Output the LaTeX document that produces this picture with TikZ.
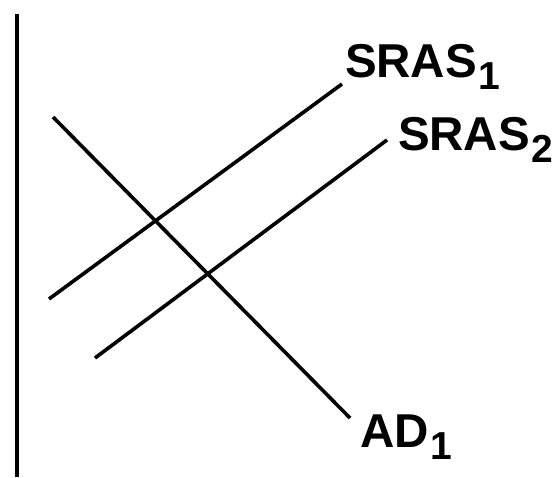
\documentclass[tikz,border=0pt]{standalone}
\usepackage{fontspec}
\setmainfont{Liberation Sans}
\begin{document}
\begin{tikzpicture}[x=1pt,y=-1pt,
  curve/.style={line width=3.6pt, draw=black},
  lbl/.style={inner sep=0pt, outer sep=0pt, anchor=base west, font=\fontsize{47.5}{50}\selectfont\bfseries}]
\newcommand{\subdigit}[1]{\kern2pt\raisebox{-12pt}{\fontsize{39}{41}\selectfont\bfseries #1}}
\useasboundingbox (0,0) rectangle (556,477);
% axis
\coordinate (axtop) at (17,14);
\coordinate (axbot) at (17,477);
\draw[curve] (axtop) -- (axbot);
% AD
\coordinate (ad0) at (53,117);
\coordinate (ad1) at (350,418);
\draw[curve] (ad0) -- (ad1);
% SRAS1
\coordinate (sa0) at (49,299);
\coordinate (sa1) at (342,84);
\draw[curve] (sa0) -- (sa1);
% SRAS2
\coordinate (sb0) at (95,358);
\coordinate (sb1) at (387,140);
\draw[curve] (sb0) -- (sb1);
% labels
\node[lbl] (lsras1) at (345,77) {SRAS\subdigit{1}};
\node[lbl] (lsras2) at (398,150) {SRAS\subdigit{2}};
\node[lbl] (lad1) at (360,447) {AD\subdigit{1}};
\end{tikzpicture}
\end{document}
